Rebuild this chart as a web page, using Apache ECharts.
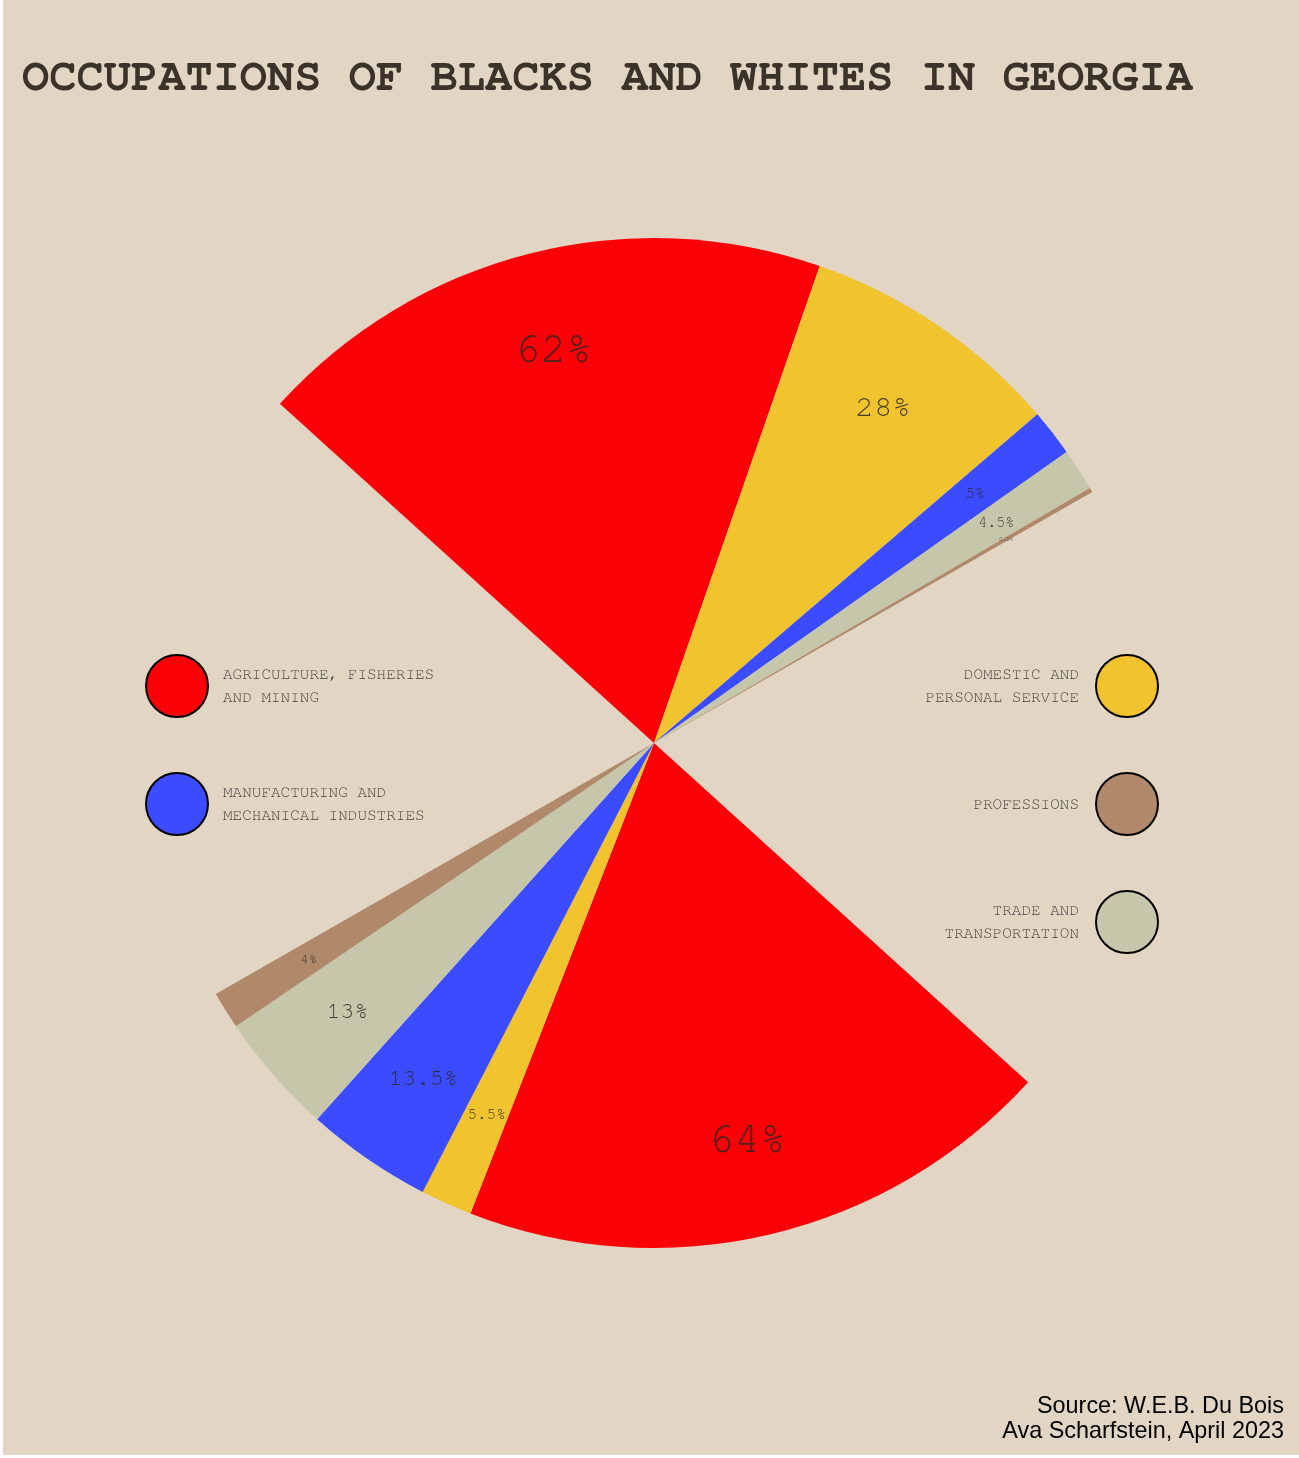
<!DOCTYPE html>
<html>
<head>
<meta charset="utf-8">
<script src="https://cdn.jsdelivr.net/npm/echarts@6/dist/echarts.min.js"></script>
<style>
  html, body { margin: 0; padding: 0; background: #ffffff; }
  #chart { position: absolute; left: 3px; top: 0; width: 1296px; height: 1455px; background: #e2d5c3; }
</style>
</head>
<body>
<div id="chart"></div>
<script>
// categories and values (percent)
const categories = [
  'AGRICULTURE, FISHERIES\nAND MINING',
  'DOMESTIC AND\nPERSONAL SERVICE',
  'MANUFACTURING AND\nMECHANICAL INDUSTRIES',
  'TRADE AND\nTRANSPORTATION',
  'PROFESSIONS'
];
const blacks = [62, 28, 5, 4.5, 0.5];
const whites = [64, 5.5, 13.5, 13, 4];

const colors = ['#fc0007', '#f0c32f', '#3b4bff', '#c6c7aa', '#b0896a'];
// each half covers 108 deg of the circle, the rest is empty
const gap = 100 * 72 / 108;

const mono = "'Nimbus Mono PS', 'Nimbus Mono L', FreeMono, 'Courier New', 'Liberation Mono', monospace";

const chart = echarts.init(document.getElementById('chart'));

function buildData(withLabels) {
  const out = [];
  const pushHalf = (vals) => {
    vals.forEach((v, i) => {
      const item = { name: categories[i], value: v, itemStyle: { color: colors[i] } };
      if (withLabels) {
        item.itemStyle = { color: 'rgba(0,0,0,0)' };
        item.label = { fontSize: Math.round(8.2 * Math.pow(v, 0.4)) };
      }
      out.push(item);
    });
  };
  const gapItem = (n) => ({
    name: n, value: gap,
    itemStyle: { color: 'rgba(0,0,0,0)' },
    label: { show: false }
  });
  pushHalf(blacks);
  out.push(gapItem('gap1'));
  pushHalf(whites);
  out.push(gapItem('gap2'));
  return out;
}

const legendBase = {
  orient: 'vertical',
  top: 649,
  icon: 'circle',
  itemWidth: 62,
  itemHeight: 62,
  itemGap: 54,
  selectedMode: false,
  itemStyle: { borderColor: '#000', borderWidth: 2 }
};

let option = {
  backgroundColor: '#e2d5c3',
  color: colors,
  animation: false,
  title: [
    {
      text: 'OCCUPATIONS OF BLACKS AND WHITES IN GEORGIA',
      left: 14,
      top: 49,
      textStyle: { fontFamily: mono, fontWeight: 'bold', fontSize: 45.4, color: '#3b3329' }
    }
  ],
  graphic: [
    {
      type: 'text',
      x: 1281,
      y: 1394,
      style: {
        text: 'Source: W.E.B. Du Bois\nAva Scharfstein, April 2023',
        fontFamily: 'Liberation Sans',
        fontSize: 23.4,
        lineHeight: 25,
        fill: '#000',
        align: 'right',
        verticalAlign: 'top'
      }
    }
  ],
  legend: [
    Object.assign({}, legendBase, {
      data: [categories[0], categories[2]],
      left: 137,
      textStyle: { fontFamily: mono, fontSize: 16, color: '#444', lineHeight: 23, padding: [0, 0, 0, 10] }
    }),
    Object.assign({}, legendBase, {
      data: [categories[1], categories[4], categories[3]],
      right: 135,
      align: 'right',
      textStyle: { fontFamily: mono, fontSize: 16, color: '#444', lineHeight: 23, padding: [0, 12, 0, 0] }
    })
  ],
  series: [
    {
      type: 'pie',
      center: [651, 743],
      radius: [0, 505],
      startAngle: 137.8,
      clockwise: true,
      silent: true,
      label: { show: false },
      labelLine: { show: false },
      data: buildData(false)
    },
    {
      // invisible ring only used to place labels at 80% of the radius
      type: 'pie',
      center: [651, 743],
      radius: [303, 505],
      startAngle: 137.8,
      clockwise: true,
      silent: true,
      avoidLabelOverlap: false,
      label: {
        show: true,
        position: 'inside',
        fontFamily: mono,
        color: 'rgba(45,40,35,0.85)',
        formatter: (p) => p.value + '%'
      },
      labelLine: { show: false },
      data: buildData(true)
    }
  ]
};

chart.setOption(option);
</script>
</body>
</html>
